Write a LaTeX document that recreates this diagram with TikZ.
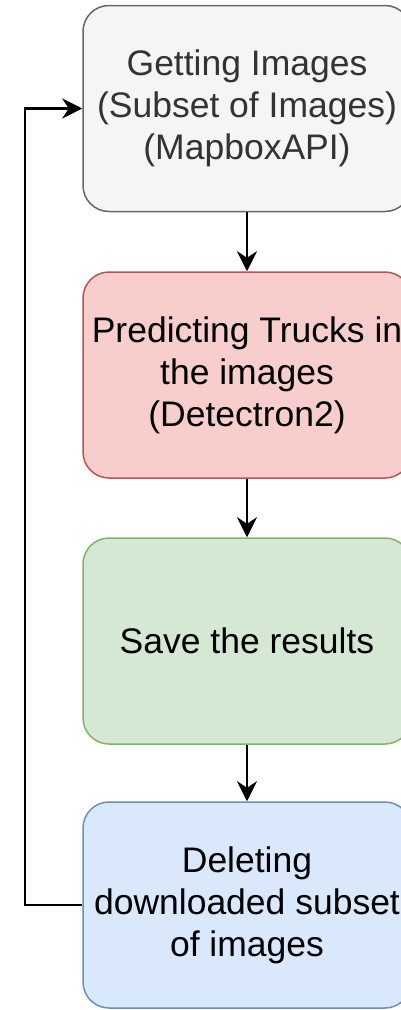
\documentclass[tikz,border=0pt]{standalone}
\usepackage{fontspec}
\setmainfont{Liberation Sans}
\usetikzlibrary{arrows.meta}
\definecolor{getfill}{HTML}{F5F5F5}
\definecolor{getdraw}{HTML}{666666}
\definecolor{gettext}{HTML}{333333}
\definecolor{predfill}{HTML}{F8CECC}
\definecolor{preddraw}{HTML}{B85450}
\definecolor{savefill}{HTML}{D5E8D4}
\definecolor{savedraw}{HTML}{82B366}
\definecolor{delfill}{HTML}{DAE8FC}
\definecolor{deldraw}{HTML}{6C8EBF}
\begin{document}
\begin{tikzpicture}[x=1pt,y=-1pt,
  stepbox/.style={rounded corners=26pt,line width=1.5pt,minimum width=328pt,
    minimum height=206pt,align=center,inner sep=0pt,
    font=\fontsize{35.5}{42}\selectfont},
  flow/.style={draw=black,line width=2.5pt,-{Stealth[length=20pt,width=20pt]}}]
\useasboundingbox (0,0) rectangle (401,1010);
% boxes, top to bottom:
\node[stepbox,draw=getdraw,fill=getfill,text=gettext] (get) at (247,108.5)
  {Getting Images\\(Subset of Images)\\(MapboxAPI)};
\node[stepbox,draw=preddraw,fill=predfill] (predict) at (247,375)
  {Predicting Trucks in\\the images\\(Detectron2)};
\node[stepbox,draw=savedraw,fill=savefill] (save) at (247,641)
  {Save the results};
\node[stepbox,draw=deldraw,fill=delfill] (delete) at (247,905)
  {Deleting\\downloaded subset\\of images};
% arrows:
\coordinate (loop) at (25,0);
\draw[flow] (get) -- (predict);
\draw[flow] (predict) -- (save);
\draw[flow] (save) -- (delete);
\draw[flow] (delete.west) -- (delete.west -| loop) |- (get.west);
\end{tikzpicture}
\end{document}
